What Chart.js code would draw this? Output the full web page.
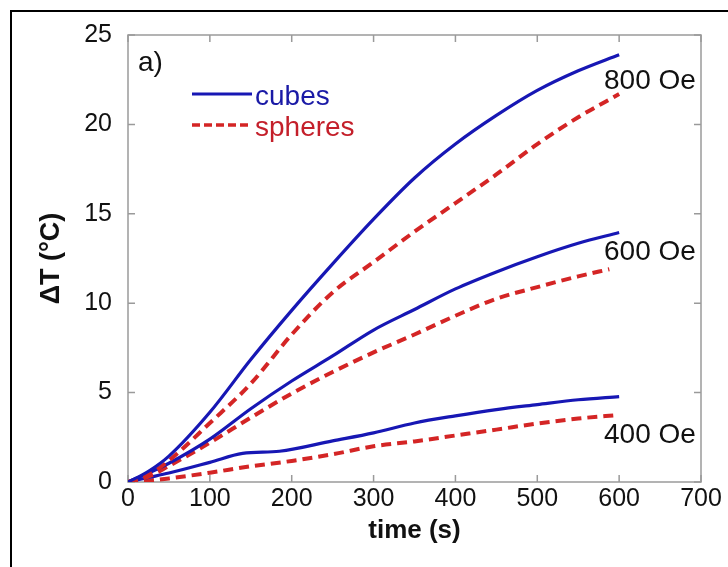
<!DOCTYPE html>
<html><head><meta charset="utf-8">
<script src="https://cdn.jsdelivr.net/npm/chart.js@4.4.1/dist/chart.umd.min.js"></script>
<style>html,body{margin:0;padding:0;background:#fff;}canvas{display:block}</style>
</head><body>
<canvas id="c" width="728" height="567"></canvas>
<script>
// ---- data ----
const timeS          = [0, 25, 50, 100, 150, 200, 250, 300, 350, 400, 450, 500, 550, 600];
const timeCubes400   = [0, 25, 50, 100, 140, 185, 250, 300, 350, 400, 450, 500, 550, 600];
const timeSpheres600 = [0, 25, 50, 100, 150, 200, 250, 300, 350, 400, 450, 500, 550, 588];

const cubes800   = [0, 0.6, 1.45, 3.9, 6.85, 9.6, 12.2, 14.7, 17.0, 18.9, 20.5, 21.9, 23.0, 23.9];
const spheres800 = [0, 0.4, 1.2, 3.3, 5.5, 8.25, 10.6, 12.3, 14.0, 15.6, 17.2, 18.9, 20.4, 21.7];
const cubes600   = [0, 0.5, 1.05, 2.4, 4.1, 5.65, 7.05, 8.5, 9.65, 10.8, 11.75, 12.6, 13.35, 13.95];
const spheres600 = [0, 0.3, 0.9, 2.2, 3.6, 4.95, 6.15, 7.25, 8.25, 9.3, 10.25, 10.9, 11.5, 11.9];
const cubes400   = [0, 0.25, 0.5, 1.1, 1.6, 1.72, 2.3, 2.75, 3.3, 3.7, 4.05, 4.33, 4.6, 4.78];
const spheres400 = [0, 0.08, 0.2, 0.52, 0.88, 1.18, 1.55, 2.0, 2.27, 2.6, 2.93, 3.27, 3.55, 3.75];

const xTicks = [0, 100, 200, 300, 400, 500, 600, 700];
const yTicks = [0, 5, 10, 15, 20, 25];
const fieldLabels = ['800 Oe', '600 Oe', '400 Oe'];
const legendLabels = ['cubes', 'spheres'];
const panelLabel = 'a)';
const xTitle = 'time (s)';
const yTitle = 'ΔT (°C)';

// ---- styles ----
const BLUE = '#1717b4';
const RED = '#d42525';
const FONT = "'Liberation Sans', Arial, Helvetica, sans-serif";
Chart.defaults.font.family = FONT;

const pts = (xs, ys) => xs.map((x, i) => ({x, y: ys[i]}));
const cubeStyle = {borderColor: BLUE, borderWidth: 3.2, pointRadius: 0, fill: false, cubicInterpolationMode: 'monotone'};
const sphereStyle = {borderColor: RED, borderWidth: 4, borderDash: [10, 6], pointRadius: 0, fill: false, cubicInterpolationMode: 'monotone'};

const datasets = [
  {label: 'cubes 800', data: pts(timeS, cubes800), ...cubeStyle},
  {label: 'spheres 800', data: pts(timeS, spheres800), ...sphereStyle},
  {label: 'cubes 600', data: pts(timeS, cubes600), ...cubeStyle},
  {label: 'spheres 600', data: pts(timeSpheres600, spheres600), ...sphereStyle},
  {label: 'cubes 400', data: pts(timeCubes400, cubes400), ...cubeStyle},
  {label: 'spheres 400', data: pts(timeS, spheres400), ...sphereStyle},
];

const decor = {
  id: 'decor',
  beforeDraw(chart) {
    const ctx = chart.ctx;
    ctx.save();
    ctx.fillStyle = '#fff';
    ctx.fillRect(0, 0, chart.width, chart.height);
    // outer frame (top & left)
    ctx.fillStyle = '#000';
    ctx.fillRect(10, 10, chart.width - 10, 2);
    ctx.fillRect(10, 10, 2, chart.height - 10);
    ctx.restore();
  },
  beforeDatasetsDraw(chart) {
    const {ctx, chartArea: {left, right, top, bottom}, scales: {x, y}} = chart;
    ctx.save();
    ctx.strokeStyle = '#9a9a9a';
    ctx.lineWidth = 1.5;
    ctx.strokeRect(left, top, right - left, bottom - top);
    ctx.beginPath();
    const tl = 7;
    xTicks.forEach(v => {
      const px = x.getPixelForValue(v);
      ctx.moveTo(px, bottom); ctx.lineTo(px, bottom - tl);
      ctx.moveTo(px, top); ctx.lineTo(px, top + tl);
    });
    yTicks.forEach(v => {
      const py = y.getPixelForValue(v);
      ctx.moveTo(left, py); ctx.lineTo(left + tl, py);
      ctx.moveTo(right, py); ctx.lineTo(right - tl, py);
    });
    ctx.stroke();
    ctx.restore();
  },
  afterDraw(chart) {
    const ctx = chart.ctx;
    ctx.save();
    ctx.textBaseline = 'alphabetic';
    ctx.textAlign = 'left';
    ctx.font = '28px ' + FONT;
    ctx.fillStyle = '#111';
    ctx.fillText(panelLabel, 138, 71);
    // legend
    ctx.lineWidth = 3.2;
    ctx.strokeStyle = BLUE;
    ctx.beginPath(); ctx.moveTo(192, 94); ctx.lineTo(252, 94); ctx.stroke();
    ctx.strokeStyle = RED;
    ctx.lineWidth = 3.5;
    ctx.setLineDash([8, 4]);
    ctx.beginPath(); ctx.moveTo(192, 125); ctx.lineTo(252, 125); ctx.stroke();
    ctx.setLineDash([]);
    ctx.fillStyle = '#1a1aa6';
    ctx.fillText(legendLabels[0], 255, 105);
    ctx.fillStyle = '#c41f2a';
    ctx.fillText(legendLabels[1], 255, 136);
    // field labels
    ctx.fillStyle = '#111';
    ctx.fillText(fieldLabels[0], 604, 89);
    ctx.fillText(fieldLabels[1], 604, 260);
    ctx.fillText(fieldLabels[2], 604, 443);
    ctx.restore();
  }
};

new Chart(document.getElementById('c'), {
  type: 'line',
  data: {datasets},
  options: {
    responsive: false,
    animation: false,
    devicePixelRatio: 1,
    layout: {padding: {top: 35, right: 27, left: 0, bottom: 0}},
    plugins: {legend: {display: false}, tooltip: {enabled: false}},
    scales: {
      x: {
        type: 'linear', min: 0, max: 700,
        afterBuildTicks(s) { s.ticks = xTicks.map(v => ({value: v})); },
        afterFit(s) { s.height = 85; },
        grid: {display: false, drawTicks: false},
        border: {display: false},
        ticks: {font: {size: 25}, color: '#111', padding: 2, maxRotation: 0},
        title: {display: true, text: xTitle, color: '#111', font: {size: 26, weight: 'bold'}, padding: {top: 21, bottom: 21}}
      },
      y: {
        type: 'linear', min: 0, max: 25,
        afterBuildTicks(s) { s.ticks = yTicks.map(v => ({value: v})); },
        afterFit(s) { s.width = 128; },
        grid: {display: false, drawTicks: false},
        border: {display: false},
        ticks: {font: {size: 25}, color: '#111', padding: 16},
        title: {display: true, text: yTitle, color: '#111', font: {size: 27, weight: 'bold'}, padding: {top: 35, bottom: 35}}
      }
    }
  },
  plugins: [decor]
});
</script>
</body></html>
